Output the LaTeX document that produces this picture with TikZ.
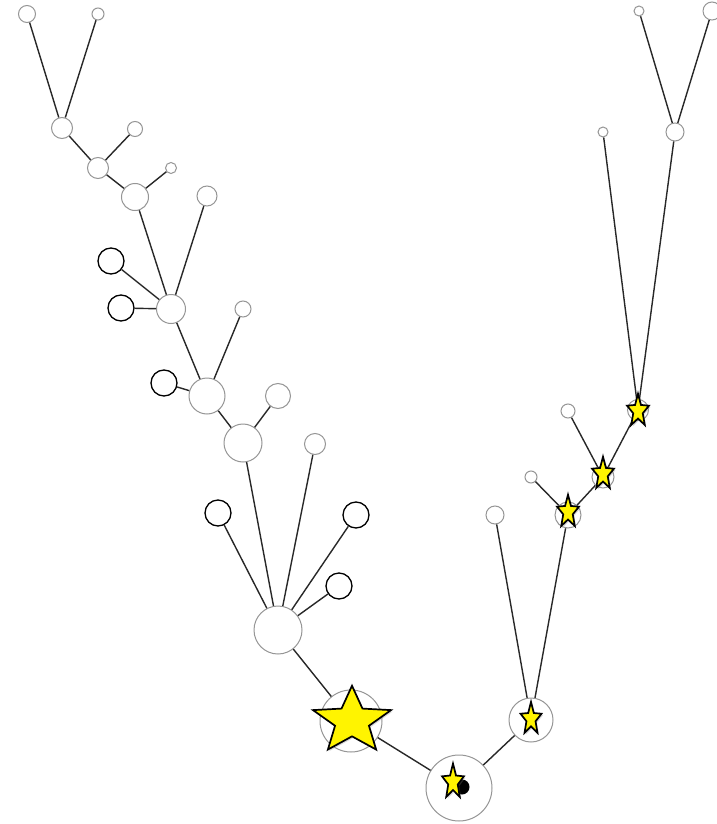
\documentclass[tikz,border=0pt]{standalone}
\usepackage{tikz}
\usetikzlibrary{shapes.geometric,shadows}
\definecolor{tredge}{RGB}{40,40,40}
\definecolor{trring}{RGB}{150,150,150}
\definecolor{trstar}{RGB}{255,244,0}
\tikzset{
  ring/.style={
    circle, draw=trring, fill=white, line width=1pt,
    inner sep=0pt, minimum size=#1pt
  },
  hollow/.style={
    circle, draw=black, fill=white, line width=1.3pt,
    inner sep=0pt, minimum size=26pt
  },
  gstar/.style={
    star, star points=5, star point ratio=2.3, draw=black, fill=trstar,
    line width=1.7pt, inner sep=0pt, minimum size=#1pt, transform shape,
    drop shadow={opacity=0.3, shadow xshift=1.5pt, shadow yshift=-1.5pt}
  },
  dot/.style={circle, fill=black, inner sep=0pt, minimum size=15pt},
  wire/.style={draw=tredge, line width=1.4pt}
}

\begin{document}
\begin{tikzpicture}[x=1pt,y=-1pt]
  \fill[white] (0,0) rectangle (716,824);
  \useasboundingbox (0,0) rectangle (716,824);

  % Left branch, top down
  \node[ring=17] (a1) at (27,14) {};
  \node[ring=12] (a2) at (98,14) {};
  \node[ring=21] (b) at (62,128) {};
  \node[ring=15] (b2) at (135,129) {};
  \node[ring=21] (c) at (98,168) {};
  \node[ring=11] (c2) at (171,168) {};
  \node[ring=27] (d) at (135,197) {};
  \node[ring=20] (d2) at (207,196) {};
  \node[ring=29] (e) at (171,309) {};
  \node[ring=16] (e2) at (243,309) {};
  \node[ring=36] (f) at (207,396) {};
  \node[ring=25] (f2) at (278,396) {};
  \node[ring=38] (g) at (243,443) {};
  \node[ring=21] (g2) at (315,444) {};
  \node[ring=48] (hub) at (278,630) {};

  \node[hollow] (ho1) at (111,261) {};
  \node[hollow] (ho2) at (121,308) {};
  \node[hollow] (ho3) at (164,383) {};
  \node[hollow] (ho4) at (218,513) {};
  \node[hollow] (ho5) at (356,515) {};
  \node[hollow] (ho6) at (339,586) {};

  % Bottom
  \node[ring=62] (big) at (351,721) {};
  \node[ring=66] (root) at (459,788) {};

  % Right branch
  \node[ring=44] (k) at (531,720) {};
  \node[ring=18] (k2) at (495,515) {};
  \node[ring=26] (l) at (568,515) {};
  \node[ring=12] (l2) at (531,477) {};
  \node[ring=22] (m) at (603,477) {};
  \node[ring=14] (m2) at (568,411) {};
  \node[ring=21] (n) at (638,410) {};
  \node[ring=10] (n2) at (603,132) {};
  \node[ring=18] (o) at (675,132) {};
  \node[ring=10] (o1) at (639,11) {};
  \node[ring=18] (o2) at (712,11) {};

  \draw[wire] (a1) -- (b);
  \draw[wire] (a2) -- (b);
  \draw[wire] (b) -- (c);
  \draw[wire] (b2) -- (c);
  \draw[wire] (c) -- (d);
  \draw[wire] (c2) -- (d);
  \draw[wire] (d) -- (e);
  \draw[wire] (d2) -- (e);
  \draw[wire] (ho1) -- (e);
  \draw[wire] (ho2) -- (e);
  \draw[wire] (e) -- (f);
  \draw[wire] (e2) -- (f);
  \draw[wire] (ho3) -- (f);
  \draw[wire] (f) -- (g);
  \draw[wire] (f2) -- (g);
  \draw[wire] (g) -- (hub);
  \draw[wire] (g2) -- (hub);
  \draw[wire] (ho4) -- (hub);
  \draw[wire] (ho5) -- (hub);
  \draw[wire] (ho6) -- (hub);
  \draw[wire] (hub) -- (big);
  \draw[wire] (big) -- (root);
  \draw[wire] (root) -- (k);
  \draw[wire] (k2) -- (k);
  \draw[wire] (l) -- (k);
  \draw[wire] (l2) -- (l);
  \draw[wire] (m) -- (l);
  \draw[wire] (m2) -- (m);
  \draw[wire] (n) -- (m);
  \draw[wire] (n2) -- (n);
  \draw[wire] (o) -- (n);
  \draw[wire] (o1) -- (o);
  \draw[wire] (o2) -- (o);

  % Marks
  \node[dot] (rdot) at (462,787) {};
  \node[gstar=82, yscale=0.86] (bigstar) at (352,721) {};
  \node[gstar=23, yscale=1.6] (rstar) at (453,782) {};
  \node[gstar=22, yscale=1.55] (kstar) at (531,719) {};
  \node[gstar=23, yscale=1.5] (lstar) at (568,512) {};
  \node[gstar=23, yscale=1.5] (mstar) at (603,474) {};
  \node[gstar=23, yscale=1.5] (nstar) at (638,411) {};
\end{tikzpicture}
\end{document}
